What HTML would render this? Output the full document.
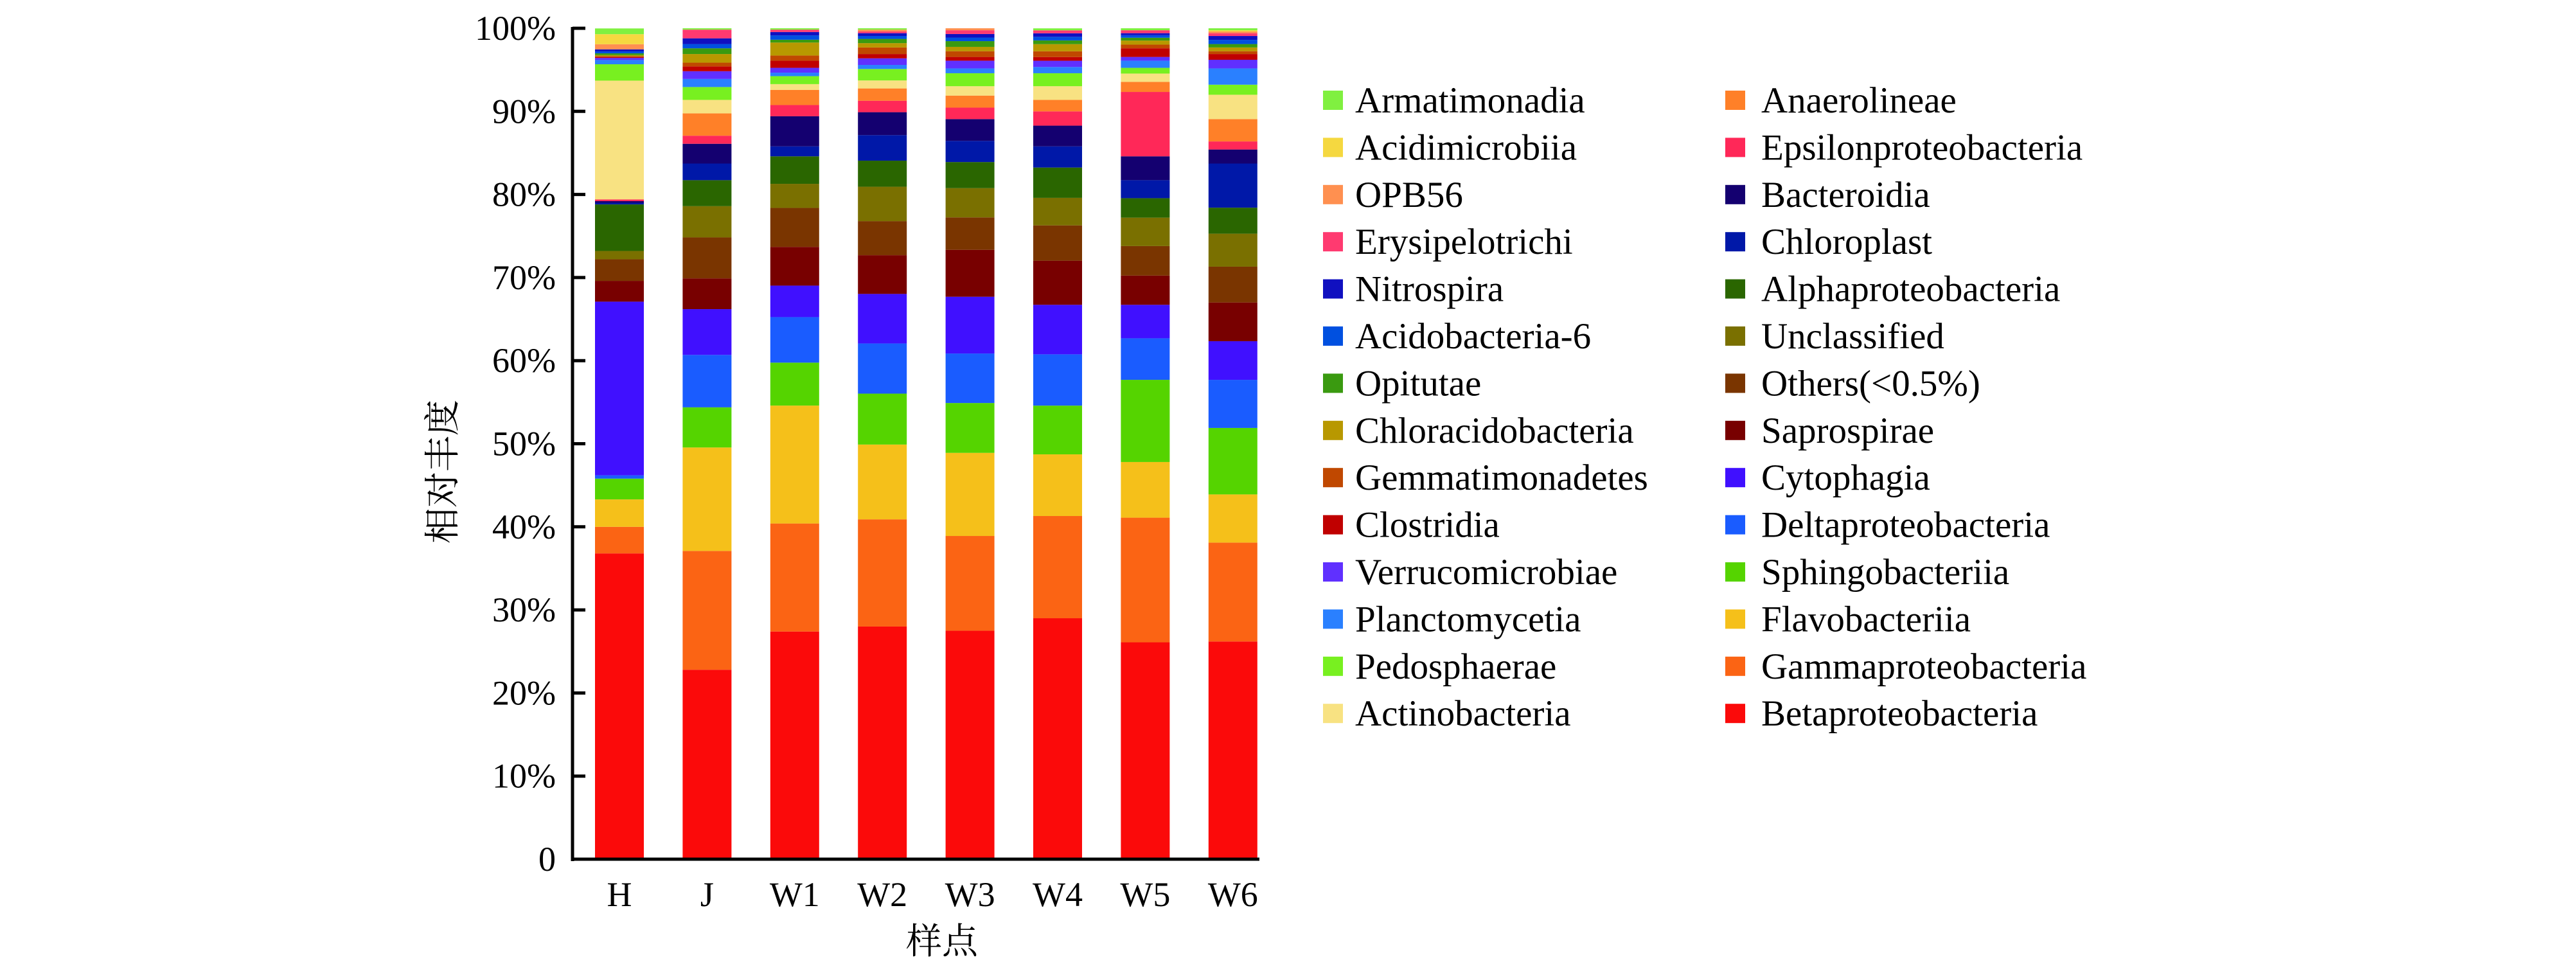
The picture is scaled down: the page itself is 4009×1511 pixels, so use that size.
<!DOCTYPE html>
<html><head><meta charset="utf-8"><style>
body{margin:0;background:#fff}
svg text{font-family:"Liberation Serif","Noto Serif CJK SC",serif;fill:#000}
</style></head><body>
<svg id="chart" width="4009" height="1506" viewBox="0 0 4009 1506" xmlns="http://www.w3.org/2000/svg">
<g id="bars"></g>
<g id="axes"></g>
<g id="legend"></g>
</svg>
<script>
const categories = ["H","J","W1","W2","W3","W4","W5","W6"];
const seriesNames = ["Betaproteobacteria","Gammaproteobacteria","Flavobacteriia","Sphingobacteriia","Deltaproteobacteria","Cytophagia","Saprospirae","Others(<0.5%)","Unclassified","Alphaproteobacteria","Chloroplast","Bacteroidia","Epsilonproteobacteria","Anaerolineae","Actinobacteria","Pedosphaerae","Planctomycetia","Verrucomicrobiae","Clostridia","Gemmatimonadetes","Chloracidobacteria","Opitutae","Acidobacteria-6","Nitrospira","Erysipelotrichi","OPB56","Acidimicrobiia","Armatimonadia"];
const seriesColors = ["#fb0a0a","#fb6414","#f5c01a","#55d400","#1a5cff","#4010ff","#780000","#7a3500","#7a7000","#2a6600","#0018a8","#140070","#ff2858","#ff8028","#f8e282","#78f020","#2a80ff","#6030ff","#c00000","#c04800","#b89800","#3a9a10","#0050e0","#1010c0","#ff3a70","#ff9050","#f5d840","#80f040"];
const valH  = [36.8,3.2,3.3,2.5,0.4,20.9,2.5,2.6,1.0,5.6,0.2,0.2,0.2,0.0,14.3,1.97,0.51,0.25,0.11,0.1,0.13,0.21,0.24,0.24,0.0,0.62,1.21,0.69];
const valJ  = [22.8,14.3,12.45,4.83,6.31,5.51,3.7,4.93,3.76,3.13,2.0,2.38,0.97,2.69,1.62,1.55,0.97,0.93,0.58,0.45,1.04,0.69,0.51,0.69,1.04,0.0,0.0,0.17];
const valW1 = [27.4,13.0,14.19,5.17,5.48,3.79,4.66,4.69,2.9,3.31,1.2,3.62,1.35,1.83,0.69,0.96,0.42,0.58,0.86,0.62,1.56,0.34,0.52,0.41,0.28,0.0,0.0,0.17];
const valW2 = [28.0,12.9,9.0,6.13,6.04,5.96,4.66,4.1,4.14,3.14,3.07,2.76,1.38,1.48,0.96,1.38,0.49,0.79,0.52,0.79,0.52,0.51,0.35,0.34,0.2,0.22,0.0,0.17];
const valW3 = [27.5,11.4,10.0,6.0,5.96,6.83,5.65,3.9,3.52,3.14,2.55,2.62,1.38,1.45,1.13,1.56,0.58,0.93,0.45,0.69,0.52,0.69,0.43,0.43,0.45,0.24,0.0,0.0];
const valW4 = [29.0,12.3,7.42,5.87,6.17,5.96,5.31,4.25,3.31,3.65,2.55,2.49,1.72,1.38,1.65,1.56,0.75,0.75,0.45,0.69,0.86,0.45,0.43,0.43,0.35,0.0,0.0,0.24];
const valW5 = [26.1,15.0,6.7,9.89,5.0,4.03,3.52,3.55,3.42,2.34,2.17,2.87,7.75,1.21,1.0,0.69,0.86,0.45,1.04,0.44,0.49,0.34,0.3,0.25,0.35,0.0,0.0,0.24];
const valW6 = [26.2,11.9,5.8,8.0,5.79,4.65,4.66,4.31,3.97,3.13,5.31,1.69,0.97,2.69,2.93,1.21,1.96,1.04,0.69,0.34,0.45,0.41,0.5,0.47,0.34,0.2,0.15,0.24];
const sampleValues = [valH,valJ,valW1,valW2,valW3,valW4,valW5,valW6];
const yTicks = [0,10,20,30,40,50,60,70,80,90,100];
const yTickLabels = ["0","10%","20%","30%","40%","50%","60%","70%","80%","90%","100%"];
const legendCol1 = ["Armatimonadia","Acidimicrobiia","OPB56","Erysipelotrichi","Nitrospira","Acidobacteria-6","Opitutae","Chloracidobacteria","Gemmatimonadetes","Clostridia","Verrucomicrobiae","Planctomycetia","Pedosphaerae","Actinobacteria"];
const legendCol2 = ["Anaerolineae","Epsilonproteobacteria","Bacteroidia","Chloroplast","Alphaproteobacteria","Unclassified","Others(<0.5%)","Saprospirae","Cytophagia","Deltaproteobacteria","Sphingobacteriia","Flavobacteriia","Gammaproteobacteria","Betaproteobacteria"];

const NS="http://www.w3.org/2000/svg";
const axX=891, y0=1337, y100=44, firstC=964, step=136.4, barW=76;
const yScale=v=>y0-(y0-y100)*v/100;
const xScale=i=>firstC+i*step;
function mk(tag,attrs,parent){const e=document.createElementNS(NS,tag);for(const k in attrs)e.setAttribute(k,attrs[k]);parent.appendChild(e);return e;}
const gB=document.getElementById('bars'),gA=document.getElementById('axes'),gL=document.getElementById('legend');

sampleValues.forEach((vals,i)=>{
  let cum=0;
  vals.forEach((v,s)=>{
    if(v<=0)return;
    const top=Math.min(cum+v,100);
    const r=mk('rect',{x:xScale(i)-barW/2,y:yScale(top),width:barW,height:Math.max(0,yScale(cum)-yScale(top)),fill:seriesColors[s]},gB);
    
    
    cum=top;
  });
  const t=mk('text',{x:xScale(i),y:1410,'font-size':54,'text-anchor':'middle'},gA);
  t.textContent=categories[i];
  
  
});

const yl=mk('line',{x1:axX,y1:y100-2,x2:axX,y2:y0+3,stroke:'#000','stroke-width':5},gA);


const xl=mk('line',{x1:axX-2,y1:y0,x2:1960,y2:y0,stroke:'#000','stroke-width':5},gA);


yTicks.forEach((v,k)=>{
  const tk=mk('line',{x1:axX,y1:yScale(v),x2:axX+20,y2:yScale(v),stroke:'#000','stroke-width':5},gA);
  
  
  const t=mk('text',{x:865,y:yScale(v)+18,'font-size':54,'text-anchor':'end'},gA);
  t.textContent=yTickLabels[k];
  
  
});
const yt=mk('text',{x:0,y:0,'font-size':56,'text-anchor':'middle',transform:'translate(708,734) rotate(-90)'},gA);
yt.textContent='相对丰度';


const xt=mk('text',{x:1466,y:1484,'font-size':56,'text-anchor':'middle'},gA);
xt.textContent='样点';



function legendCol(list,sx,tx){
  list.forEach((name,r)=>{
    const cy=156+r*73.4;
    const s=seriesNames.indexOf(name);
    const sw=mk('rect',{x:sx,y:cy-15,width:31,height:30,fill:seriesColors[s]},gL);
    
    
    const t=mk('text',{x:tx,y:cy+19,'font-size':57},gL);
    t.textContent=name;
    
    
  });
}
legendCol(legendCol1,2059,2109);
legendCol(legendCol2,2685,2741);
</script>
</body></html>
